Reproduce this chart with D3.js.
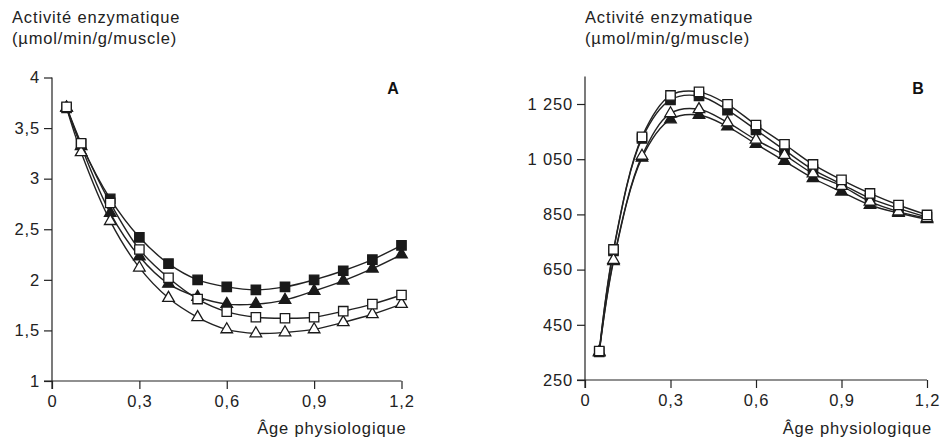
<!DOCTYPE html>
<html>
<head>
<meta charset="utf-8">
<script src="https://cdn.jsdelivr.net/npm/d3@7"></script>
<style>
  html, body { margin: 0; padding: 0; background: #fff; }
  svg { display: block; font-family: "Liberation Sans", Arial, Helvetica, sans-serif; }
</style>
</head>
<body>
<svg id="chart" width="941" height="443"></svg>
<script>
// ---- Data ----
const ages = [0.05, 0.1, 0.2, 0.3, 0.4, 0.5, 0.6, 0.7, 0.8, 0.9, 1.0, 1.1, 1.2];
const xTicks = [0, 0.3, 0.6, 0.9, 1.2];
const xTickLabels = ["0", "0,3", "0,6", "0,9", "1,2"];

const yTicksA = [1, 1.5, 2, 2.5, 3, 3.5, 4];
const yTickLabelsA = ["1", "1,5", "2", "2,5", "3", "3,5", "4"];
const yTicksB = [250, 450, 650, 850, 1050, 1250];
const yTickLabelsB = ["250", "450", "650", "850", "1 050", "1 250"];

const A_filledSquare   = [3.70, 3.34, 2.80, 2.42, 2.16, 2.00, 1.93, 1.90, 1.93, 2.00, 2.09, 2.20, 2.34];
const A_openSquare     = [3.71, 3.35, 2.76, 2.30, 2.02, 1.81, 1.685, 1.63, 1.62, 1.63, 1.69, 1.76, 1.85];
const A_filledTriangle = [3.70, 3.32, 2.66, 2.23, 1.96, 1.83, 1.76, 1.76, 1.80, 1.89, 1.99, 2.11, 2.25];
const A_openTriangle   = [3.70, 3.26, 2.58, 2.12, 1.82, 1.63, 1.51, 1.47, 1.48, 1.51, 1.58, 1.66, 1.76];

const B_filledSquare   = [352, 718, 1125, 1265, 1279, 1228, 1156, 1083, 1012, 960, 908, 872, 840];
const B_openSquare     = [355, 723, 1131, 1281, 1294, 1249, 1174, 1104, 1031, 975, 926, 884, 848];
const B_filledTriangle = [350, 680, 1055, 1194, 1210, 1168, 1105, 1043, 981, 932, 884, 855, 832];
const B_openTriangle   = [352, 685, 1062, 1216, 1231, 1183, 1120, 1065, 998, 953, 896, 860, 836];

const yTitle1 = "Activité enzymatique";
const yTitle2 = "(\u00B5mol/min/g/muscle)";
const xTitle = "Âge physiologique";

// ---- Drawing ----
const svg = d3.select("#chart");
svg.append("rect").attr("width", 941).attr("height", 443).attr("fill", "#fff");

const FONT = 16.5;
const LS = 0.85;

function styleText(sel) {
  sel.attr("font-size", FONT).attr("letter-spacing", LS).attr("fill", "#222")
    .attr("font-family", "Liberation Sans, Arial, sans-serif");
}

function panel(opts) {
  const g = svg.append("g");
  const x = d3.scaleLinear().domain([0, 1.2]).range(opts.xRange);
  const y = d3.scaleLinear().domain(opts.yDomain).range(opts.yRange);

  // y axis
  const yAxis = d3.axisLeft(y).tickValues(opts.yTicks)
    .tickFormat((d, i) => opts.yLabels[i]).tickSize(8).tickSizeOuter(0).tickPadding(4);
  const gy = g.append("g").attr("transform", `translate(${opts.xRange[0]},0)`).call(yAxis);
  gy.select(".domain").attr("stroke", "#222").attr("stroke-width", 1.2)
    .attr("d", `M0,${opts.yRange[0] + 8}V${opts.yRange[1]}`);
  gy.selectAll(".tick line").attr("stroke", "#222").attr("stroke-width", 1.2);
  styleText(gy.selectAll(".tick text"));

  // x axis
  const xAxis = d3.axisBottom(x).tickValues(xTicks)
    .tickFormat((d, i) => xTickLabels[i]).tickSize(8).tickSizeOuter(0).tickPadding(6);
  const gx = g.append("g").attr("transform", `translate(0,${opts.yRange[0]})`).call(xAxis);
  gx.select(".domain").attr("stroke", "#222").attr("stroke-width", 1.2)
    .attr("d", `M${opts.xRange[0] - 8},0H${opts.xRange[1]}`);
  gx.selectAll(".tick line").attr("stroke", "#222").attr("stroke-width", 1.2);
  styleText(gx.selectAll(".tick text"));

  // titles
  styleText(g.append("text").attr("x", opts.titleX).attr("y", 23).text(yTitle1));
  styleText(g.append("text").attr("x", opts.titleX).attr("y", 44).text(yTitle2));
  styleText(g.append("text").attr("x", opts.xRange[1] + 5).attr("y", 434).attr("text-anchor", "end").text(xTitle));
  g.append("text").attr("x", opts.letterX).attr("y", 94).attr("text-anchor", "middle")
    .attr("font-size", 16).attr("font-weight", "bold").attr("fill", "#111").text(opts.letter);

  const line = d3.line().x((d, i) => x(ages[i])).y(d => y(d)).curve(d3.curveCatmullRom.alpha(0.5));

  const series = opts.series;
  series.forEach(s => {
    g.append("path").attr("d", line(s.values)).attr("fill", "none")
      .attr("stroke", "#222").attr("stroke-width", 1.4);
  });
  series.forEach(s => {
    const sym = d3.symbol().type(s.shape === "square" ? d3.symbolSquare : d3.symbolTriangle)
      .size(s.shape === "square" ? 88 : 58);
    g.append("g").selectAll("path").data(s.values).join("path")
      .attr("d", sym)
      .attr("transform", (d, i) => `translate(${x(ages[i])},${y(d)})`)
      .attr("fill", s.filled ? "#1a1a1a" : "#fff")
      .attr("stroke", "#1a1a1a").attr("stroke-width", 1.3);
  });
}

panel({
  xRange: [52, 401.5], yDomain: [1, 4], yRange: [381, 77.5],
  yTicks: yTicksA, yLabels: yTickLabelsA, titleX: 12, letterX: 393, letter: "A",
  series: [
    { values: A_filledSquare, shape: "square", filled: true },
    { values: A_filledTriangle, shape: "triangle", filled: true },
    { values: A_openTriangle, shape: "triangle", filled: false },
    { values: A_openSquare, shape: "square", filled: false }
  ]
});

panel({
  xRange: [585, 927], yDomain: [250, 1350], yRange: [380, 76.4],
  yTicks: yTicksB, yLabels: yTickLabelsB, titleX: 585, letterX: 918, letter: "B",
  series: [
    { values: B_filledSquare, shape: "square", filled: true },
    { values: B_filledTriangle, shape: "triangle", filled: true },
    { values: B_openTriangle, shape: "triangle", filled: false },
    { values: B_openSquare, shape: "square", filled: false }
  ]
});
</script>
</body>
</html>
